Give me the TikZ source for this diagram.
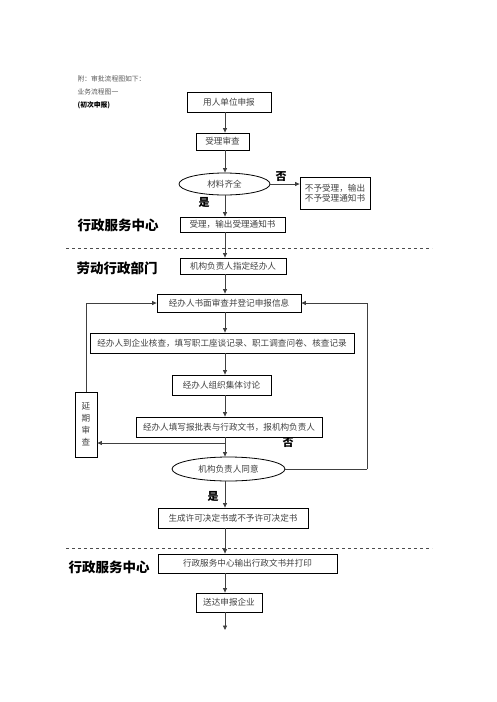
\documentclass[tikz,border=0pt]{standalone}
\usepackage{fontspec}
\setmainfont{Noto Sans CJK SC}
\usepackage{xcolor}
\usepackage{tikz}
\usetikzlibrary{
    positioning,
    arrows.meta,
    shapes.geometric,
    calc,
}
\tikzset{
    % Basic node styles
    proc box/.style={rectangle, draw, line width=0.8pt, inner sep=0pt,
                     align=center, font=\fontsize{8.6}{10}\selectfont, text=black!75},
    check oval/.style={ellipse, draw, line width=0.8pt, inner sep=0pt,
                       font=\fontsize{8.6}{10}\selectfont, text=black!75},
    % Arrow styles
    arrow/.style={-{Triangle[length=4.5pt, width=4pt]}, line width=0.8pt, black!75},
    link/.style={line width=0.8pt, black!75},
    % Annotation styles
    dept/.style={font=\bfseries\fontsize{13.5}{15}\selectfont},
    yesno/.style={font=\bfseries\fontsize{11}{12}\selectfont},
    note/.style={font=\fontsize{6.8}{8}\selectfont, text=black!65, anchor=west},
    sep line/.style={dashed, line width=0.6pt, black!70},
}

\begin{document}
\begin{tikzpicture}[x=1pt, y=-1pt]
    \useasboundingbox (0,0) rectangle (496,702);

    % Heading notes
    \node[note] (n1) at (74,79) {附：审批流程图如下：};
    \node[note] (n2) at (74,92) {业务流程图一};
    \node[note, font=\bfseries\fontsize{6.8}{8}\selectfont, text=black] (n3) at (74,105) {(初次申报)};

    % Service centre part
    \node[proc box, minimum width=84pt, minimum height=20pt] (apply) at (229,102) {用人单位申报};
    \node[proc box, minimum width=53pt, minimum height=17pt] (accept) at (222.5,141.5) {受理审查};
    \node[check oval, minimum width=91pt, minimum height=22pt] (full) at (224.5,184) {材料齐全};
    \node[proc box, minimum width=70pt, minimum height=32pt] (refuse) at (335,193)
        {不予受理，输出\\不予受理通知书};
    \node[proc box, minimum width=105pt, minimum height=15pt] (notice) at (232.5,224.5) {受理，输出受理通知书};

    % Labour department part
    \node[proc box, minimum width=106pt, minimum height=16pt] (assign) at (233,266) {机构负责人指定经办人};
    \node[proc box, minimum width=144pt, minimum height=18pt] (review) at (229,303) {经办人书面审查并登记申报信息};
    \node[proc box, minimum width=264pt, minimum height=20pt] (visit) at (222,343)
        {经办人到企业核查，填写职工座谈记录、职工调查问卷、核查记录};
    \node[proc box, minimum width=99pt, minimum height=20pt] (discuss) at (221.5,385) {经办人组织集体讨论};
    \node[proc box, minimum width=186pt, minimum height=20pt] (report) at (229,427)
        {经办人填写报批表与行政文书，报机构负责人};
    \node[proc box, minimum width=22pt, minimum height=65pt] (delay) at (86,424.5)
        {延\\[2pt]期\\[2pt]审\\[2pt]查};
    \node[check oval, minimum width=113pt, minimum height=24pt] (agree) at (228.5,469) {机构负责人同意};
    \node[proc box, minimum width=150pt, minimum height=20pt] (decide) at (233,518) {生成许可决定书或不予许可决定书};

    % Service centre again
    \node[proc box, minimum width=179pt, minimum height=19pt] (print) at (247.5,563.5) {行政服务中心输出行政文书并打印};
    \node[proc box, minimum width=66pt, minimum height=19pt] (deliver) at (229,602.5) {送达申报企业};

    % Spine and free ends
    \coordinate (spine) at (225,0);
    \coordinate (split) at (225,443);
    \coordinate (turn) at (367,469);
    \coordinate (out) at (225,630);

    % Main flow
    \draw[arrow] (apply.south -| spine) -- (accept.north -| spine);
    \draw[arrow] (accept.south -| spine) -- (full.north -| spine);
    \draw[arrow] (full.south -| spine) -- (notice.north -| spine);
    \draw[arrow] (notice.south -| spine) -- (assign.north -| spine);
    \draw[arrow] (assign.south -| spine) -- (review.north -| spine);
    \draw[arrow] (review.south -| spine) -- (visit.north -| spine);
    \draw[arrow] (visit.south -| spine) -- (discuss.north -| spine);
    \draw[arrow] (discuss.south -| spine) -- (report.north -| spine);
    \draw[arrow] (report.south -| spine) -- (agree.north -| spine);
    \draw[arrow] (agree.south -| spine) -- (decide.north -| spine);
    \draw[arrow] (decide.south -| spine) -- (print.north -| spine);
    \draw[arrow] (print.south -| spine) -- (deliver.north -| spine);
    \draw[arrow] (deliver.south -| spine) -- (out);

    % Branches
    \draw[arrow] (full.east) -- (refuse.west |- full.east);
    \draw[arrow] (split) -- (split -| delay.east);
    \draw[arrow] (delay.north) |- (review.west);
    \draw[link] (agree.east) -- (turn);
    \draw[arrow] (turn) |- (review.east);

    % Yes / no labels
    \node[yesno] (no1) at (281,177) {否};
    \node[yesno] (yes1) at (204,202) {是};
    \node[yesno] (no2) at (288,443) {否};
    \node[yesno] (yes2) at (213,496) {是};

    % Department labels
    \draw[sep line] (66,248) -- (432,248);
    \draw[sep line] (66,548) -- (432,548);
    \node[dept] (svc1) at (118,225) {行政服务中心};
    \node[dept] (labour) at (117,268) {劳动行政部门};
    \node[dept] (svc2) at (109,567) {行政服务中心};
\end{tikzpicture}
\end{document}
